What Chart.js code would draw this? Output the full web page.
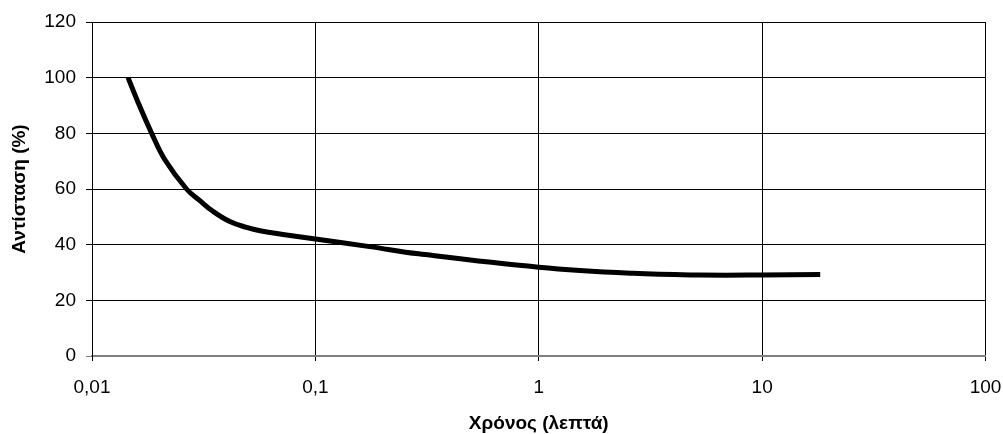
<!DOCTYPE html>
<html>
<head>
<meta charset="utf-8">
<script src="https://cdn.jsdelivr.net/npm/chart.js@4"></script>
<style>
  html, body { margin: 0; padding: 0; background: #fff; }
  #wrap { width: 1003px; height: 434px; }
</style>
</head>
<body>
<div id="wrap"><canvas id="resChart" width="1003" height="434"></canvas></div>
<script>
// time in minutes (log axis) and resistance in %
const timeMin = [0.0145, 0.0161, 0.0185, 0.0212, 0.0265, 0.0304, 0.0349, 0.0414, 0.0492, 0.0565, 0.0743, 0.1, 0.175, 0.29, 1, 2.64, 5.25, 10, 18.2];
const resistance = [100, 91, 80, 70.5, 60, 55.8, 51.9, 48.3, 46.2, 45, 43.5, 42, 39.3, 36.7, 31.9, 29.7, 29.1, 29.1, 29.3];
const xTicks = [0.01, 0.1, 1, 10, 100];
const xTickLabels = ['0,01', '0,1', '1', '10', '100'];

Chart.defaults.font.family = "'Liberation Sans', Arial, sans-serif";
Chart.defaults.color = '#000';

let ctx = document.getElementById('resChart').getContext('2d');
let resChart = new Chart(ctx, {
    type: 'line',
    data: {
        datasets: [{
            data: timeMin.map((t, i) => ({ x: t, y: resistance[i] })),
            borderColor: '#000',
            borderWidth: 5,
            pointRadius: 0,
            tension: 0.4,
            fill: false
        }]
    },
    options: {
        animation: false,
        responsive: false,
        layout: { padding: { top: 22, right: 17.5, left: 0, bottom: 0 } },
        plugins: { legend: { display: false }, tooltip: { enabled: false } },
        scales: {
            x: {
                type: 'logarithmic',
                min: 0.01,
                max: 100,
                afterBuildTicks: axis => { axis.ticks = xTicks.map(v => ({ value: v })); },
                afterFit: axis => {
                    axis.height = 78;
                    axis.paddingLeft = 0;
                    axis.paddingRight = 0;
                },
                ticks: {
                    font: { size: 19 },
                    padding: 15,
                    maxRotation: 0,
                    callback: (v) => xTickLabels[xTicks.indexOf(v)] ?? ''
                },
                grid: { color: '#000', lineWidth: 1, tickLength: 5 },
                border: { color: '#808080', width: 2 },
                title: { display: true, text: 'Χρόνος (λεπτά)', font: { size: 19, weight: 'bold' }, padding: { top: 4, bottom: -1 } }
            },
            y: {
                min: 0,
                max: 120,
                afterFit: axis => {
                    axis.width = 92;
                    axis.paddingTop = 0;
                    axis.paddingBottom = 0;
                },
                ticks: { stepSize: 20, font: { size: 19 }, padding: 10 },
                grid: {
                    color: c => c.tick && c.tick.value === 0 ? '#808080' : '#000',
                    lineWidth: 1,
                    tickLength: 6
                },
                border: { color: '#000', width: 1 },
                title: { display: true, text: 'Αντίσταση (%)', font: { size: 19, weight: 'bold' }, padding: { top: 8, bottom: 4 } }
            }
        }
    }
});
</script>
</body>
</html>
